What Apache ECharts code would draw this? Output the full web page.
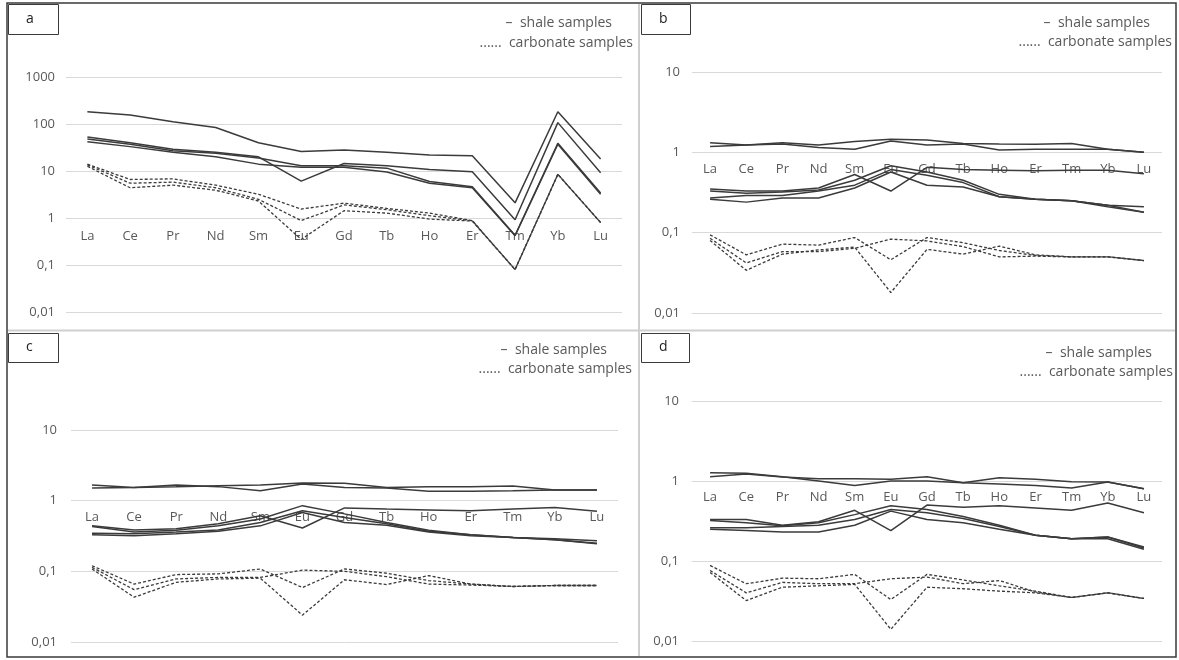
<!DOCTYPE html>
<html><head><meta charset="utf-8">
<script src="https://cdn.jsdelivr.net/npm/echarts@6/dist/echarts.min.js"></script>
<style>html,body{margin:0;padding:0;background:#fff}#c{width:1179px;height:660px}</style>
</head><body><div id="c"></div>
<script>
const elements = ['La','Ce','Pr','Nd','Sm','Eu','Gd','Tb','Ho','Er','Tm','Yb','Lu'];

// Panel a
const aShale1 = [182,155,112,84,40,26,28,25,22,21,2.1,182,18];
const aShale2 = [53,40,29,25,20,6.1,14.4,13,10.7,9.6,0.92,107,9.2];
const aShale3 = [48,37,27,24,19,13,13,11.5,6,4.6,0.43,39,3.4];
const aShale4 = [42,33,25,20,14,12,12,9.5,5.5,4.4,0.42,37,3.2];
const aCarb1 = [14,6.6,6.8,5.0,3.2,1.55,2.07,1.6,1.27,0.88,0.08,8.5,0.8];
const aCarb2 = [13.5,5.5,5.8,4.4,2.5,0.88,1.9,1.5,1.12,0.87,0.08,8.5,0.8];
const aCarb3 = [12.6,4.4,5.0,3.9,2.3,0.35,1.43,1.27,0.95,0.86,0.08,8.5,0.8];

// Panel b
const bShale1 = [1.32,1.23,1.32,1.23,1.36,1.45,1.42,1.29,1.27,1.26,1.29,1.09,1.0];
const bShale2 = [1.18,1.23,1.27,1.15,1.09,1.38,1.23,1.27,1.07,1.09,1.09,1.09,1.0];
const bShale3 = [0.35,0.33,0.33,0.36,0.53,0.33,0.65,0.61,0.60,0.59,0.60,0.60,0.54];
const bShale4 = [0.33,0.31,0.32,0.34,0.45,0.68,0.57,0.45,0.30,0.26,0.25,0.22,0.21];
const bShale5 = [0.27,0.29,0.29,0.33,0.39,0.61,0.52,0.42,0.28,0.26,0.25,0.21,0.18];
const bShale6 = [0.26,0.24,0.27,0.27,0.36,0.57,0.39,0.37,0.28,0.26,0.25,0.22,0.18];
const bCarb1 = [0.094,0.053,0.072,0.07,0.087,0.046,0.087,0.075,0.06,0.052,0.05,0.05,0.045];
const bCarb2 = [0.085,0.042,0.058,0.058,0.064,0.083,0.079,0.067,0.05,0.051,0.05,0.05,0.045];
const bCarb3 = [0.08,0.034,0.054,0.061,0.066,0.018,0.062,0.054,0.068,0.053,0.05,0.05,0.045];

// Panel c
const cShale1 = [1.67,1.54,1.67,1.58,1.38,1.72,1.54,1.51,1.36,1.36,1.38,1.42,1.42];
const cShale2 = [1.51,1.54,1.58,1.63,1.67,1.78,1.76,1.54,1.58,1.58,1.61,1.42,1.42];
const cShale3 = [0.44,0.385,0.40,0.47,0.61,0.41,0.79,0.76,0.74,0.72,0.76,0.80,0.71];
const cShale4 = [0.43,0.36,0.38,0.44,0.55,0.85,0.65,0.49,0.38,0.33,0.30,0.29,0.27];
const cShale5 = [0.345,0.34,0.36,0.385,0.49,0.72,0.58,0.47,0.37,0.33,0.30,0.28,0.25];
const cShale6 = [0.33,0.32,0.34,0.37,0.44,0.68,0.49,0.45,0.36,0.32,0.30,0.28,0.245];
const cCarb1 = [0.12,0.066,0.09,0.092,0.108,0.059,0.108,0.094,0.074,0.066,0.061,0.063,0.063];
const cCarb2 = [0.114,0.055,0.078,0.082,0.082,0.104,0.1,0.084,0.066,0.064,0.061,0.063,0.063];
const cCarb3 = [0.108,0.043,0.07,0.078,0.08,0.024,0.076,0.065,0.087,0.066,0.061,0.063,0.063];

// Panel d
const dShale1 = [1.27,1.25,1.13,1.0,0.88,1.0,1.0,0.95,0.92,0.88,0.82,0.97,0.8];
const dShale2 = [1.13,1.22,1.12,1.07,1.07,1.05,1.13,0.95,1.1,1.05,0.98,0.97,0.8];
const dShale3 = [0.33,0.33,0.28,0.31,0.43,0.24,0.5,0.47,0.49,0.46,0.43,0.53,0.40];
const dShale4 = [0.32,0.30,0.275,0.30,0.38,0.49,0.44,0.36,0.28,0.21,0.19,0.20,0.15];
const dShale5 = [0.26,0.26,0.27,0.28,0.33,0.44,0.40,0.34,0.27,0.21,0.19,0.20,0.145];
const dShale6 = [0.25,0.24,0.23,0.23,0.28,0.42,0.33,0.30,0.25,0.21,0.19,0.19,0.14];
const dCarb1 = [0.088,0.052,0.061,0.06,0.068,0.033,0.068,0.058,0.049,0.042,0.035,0.04,0.034];
const dCarb2 = [0.076,0.04,0.054,0.052,0.052,0.06,0.063,0.052,0.057,0.041,0.035,0.04,0.034];
const dCarb3 = [0.072,0.032,0.047,0.049,0.051,0.014,0.047,0.045,0.042,0.04,0.035,0.04,0.034];

const panelLabels = ['a','b','c','d'];
const legendShale = '–  shale samples';
const legendCarb = '......  carbonate samples';

const FONT = '"Open Sans", "Noto Sans", sans-serif';
const GRAY = '#595959';
const LINE = '#3b3b3b';

const panels = [
  {shale:[aShale1,aShale2,aShale3,aShale4], carb:[aCarb1,aCarb2,aCarb3], min:0.01, max:1000,
   grid:{left:66, top:77, width:556, height:235}, ylm:11, xlm:12,
   box:[8,4,50,30], leg:[612,23,633,43]},
  {shale:[bShale1,bShale2,bShale3,bShale4,bShale5,bShale6], carb:[bCarb1,bCarb2,bCarb3], min:0.01, max:10,
   grid:{left:692, top:72, width:470, height:241}, ylm:12, xlm:10,
   box:[641,4,49,30], leg:[1150,23,1172,42]},
  {shale:[cShale1,cShale2,cShale3,cShale4,cShale5,cShale6], carb:[cCarb1,cCarb2,cCarb3], min:0.01, max:10,
   grid:{left:71, top:430, width:547, height:212}, ylm:14, xlm:10,
   box:[8,333,50,29], leg:[607,350,632,369]},
  {shale:[dShale1,dShale2,dShale3,dShale4,dShale5,dShale6], carb:[dCarb1,dCarb2,dCarb3], min:0.01, max:10,
   grid:{left:692, top:401, width:470, height:240}, ylm:13, xlm:10,
   box:[641,333,48,29], leg:[1152,353,1173,372]}
];

const grids = [], xAxes = [], yAxes = [], series = [], graphics = [];

graphics.push({type:'rect', shape:{x:7,y:3,width:1169,height:654}, style:{fill:'none', stroke:'#3a3a3a', lineWidth:1.5}, z:10});
graphics.push({type:'line', shape:{x1:639,y1:4,x2:639,y2:656}, style:{stroke:'#cfcfcf', lineWidth:2}, z:9});
graphics.push({type:'line', shape:{x1:8,y1:330.5,x2:1175,y2:330.5}, style:{stroke:'#cfcfcf', lineWidth:2}, z:9});

panels.forEach((p, i) => {
  grids.push(Object.assign({outerBoundsMode:'none', containLabel:false}, p.grid));
  const decades = Math.log10(p.max) - Math.log10(p.min);
  const oneOffset = -p.grid.height * (Math.log10(1) - Math.log10(p.min)) / decades;
  xAxes.push({
    type:'category', gridIndex:i, data:elements, position:'bottom', offset:oneOffset,
    axisLine:{show:false, onZero:false}, axisTick:{show:false}, splitLine:{show:false},
    axisLabel:{color:GRAY, fontFamily:FONT, fontSize:13, margin:p.xlm, interval:0}
  });
  yAxes.push({
    type:'log', logBase:10, gridIndex:i, min:p.min, max:p.max,
    axisLine:{show:false}, axisTick:{show:false},
    splitLine:{show:true, lineStyle:{color:'#d9d9d9', width:1}},
    axisLabel:{color:GRAY, fontFamily:FONT, fontSize:13, margin:p.ylm,
      formatter: v => String(+(+v).toPrecision(3)).replace('.', ',')}
  });
  p.shale.forEach(arr => series.push({
    type:'line', xAxisIndex:i, yAxisIndex:i, data:arr, symbol:'none', silent:true,
    lineStyle:{color:LINE, width:1.5, type:'solid'}
  }));
  p.carb.forEach(arr => series.push({
    type:'line', xAxisIndex:i, yAxisIndex:i, data:arr, symbol:'none', silent:true,
    lineStyle:{color:LINE, width:1.3, type:[3,2]}
  }));
  const b = p.box;
  graphics.push({type:'rect', shape:{x:b[0]+0.5,y:b[1]+0.5,width:b[2],height:b[3]}, style:{fill:'#fff', stroke:'#3a3a3a', lineWidth:1}, z:11});
  graphics.push({type:'text', x:b[0]+18, y:b[1]+b[3]/2, style:{text:panelLabels[i], fill:'#222', font:'14px ' + FONT, verticalAlign:'middle', align:'left'}, z:12});
  const L = p.leg;
  graphics.push({type:'text', x:L[0], y:L[1], style:{text:legendShale, fill:GRAY, font:'14px ' + FONT, align:'right', verticalAlign:'middle'}, z:12});
  graphics.push({type:'text', x:L[2], y:L[3], style:{text:legendCarb, fill:GRAY, font:'14px ' + FONT, align:'right', verticalAlign:'middle'}, z:12});
});

const chart = echarts.init(document.getElementById('c'), null, {renderer:'canvas'});
chart.setOption({
  animation:false,
  backgroundColor:'#ffffff',
  grid:grids, xAxis:xAxes, yAxis:yAxes, series:series, graphic:graphics
});
</script></body></html>
